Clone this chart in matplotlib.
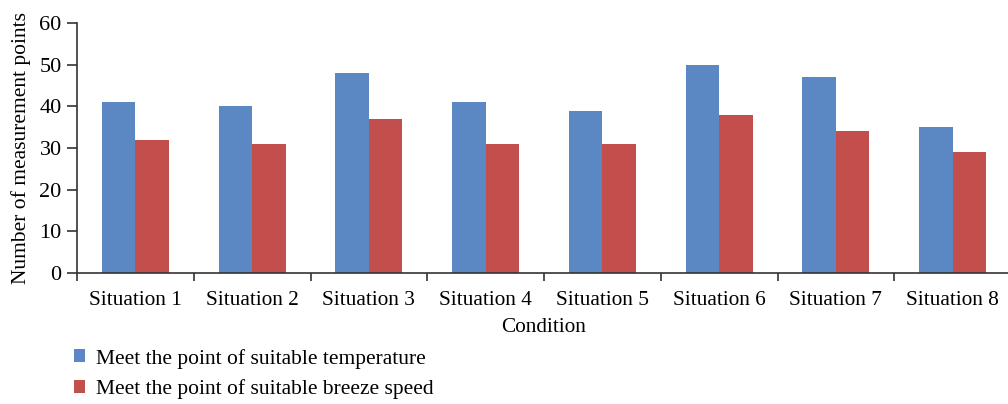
import matplotlib.pyplot as plt
import numpy as np

plt.rcParams['font.family'] = ['Liberation Serif', 'DejaVu Serif']

situations = ['Situation 1', 'Situation 2', 'Situation 3', 'Situation 4',
              'Situation 5', 'Situation 6', 'Situation 7', 'Situation 8']
temperature_ok = [41, 40, 48, 41, 39, 50, 47, 35]
breeze_ok = [32, 31, 37, 31, 31, 38, 34, 29]

blue = '#5b88c3'
red = '#c24f4b'

fig = plt.figure(figsize=(10.08, 4.04), dpi=100)
ax = fig.add_axes([77 / 1008, 131 / 404, 934 / 1008, 250 / 404])

x = np.arange(len(situations))
w = 0.287
ax.bar(x - w / 2, temperature_ok, w, color=blue, label='Meet the point of suitable temperature')
ax.bar(x + w / 2, breeze_ok, w, color=red, label='Meet the point of suitable breeze speed')

ax.set_xlim(-0.5, len(situations) - 0.5)
ax.set_ylim(0, 60)
ax.set_yticks(range(0, 61, 10))
ax.tick_params(axis='y', labelsize=16, length=7, width=1.2, color='#333333', pad=4)

# category labels in the middle, tick marks on the boundaries
ax.set_xticks(x)
ax.set_xticklabels(situations, fontsize=15.3)
ax.tick_params(axis='x', which='major', length=0, pad=13)
ax.set_xticks(np.arange(-0.5, len(situations), 1.0), minor=True)
ax.tick_params(axis='x', which='minor', length=6, width=1.2, color='#333333')

for s in ['top', 'right']:
    ax.spines[s].set_visible(False)
for s in ['left', 'bottom']:
    ax.spines[s].set_linewidth(1.2)
    ax.spines[s].set_color('#333333')

ax.set_xlabel('Condition', fontsize=15.3, labelpad=6)
ax.set_ylabel('Number of measurement points', fontsize=15.5, labelpad=6)

leg = fig.legend(loc='upper left', bbox_to_anchor=(65 / 1008, 1 - 340 / 404),
                 frameon=False, fontsize=15.5, handlelength=0.55, handleheight=0.55,
                 handletextpad=0.5, labelspacing=0.5, borderaxespad=0)

fig.savefig('out.png', dpi=100)
